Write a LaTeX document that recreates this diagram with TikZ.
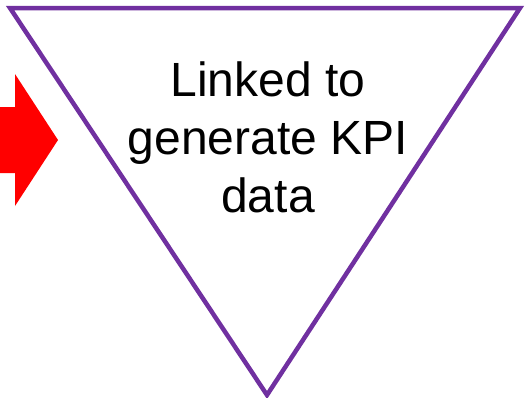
\documentclass[tikz,border=0pt]{standalone}
\usepackage{fontspec}
\setmainfont{Liberation Sans}
\usepackage{tikz}
\usetikzlibrary{positioning}
\definecolor{kpipurple}{RGB}{112,48,160}
\definecolor{kpired}{RGB}{255,0,0}

\begin{document}
\begin{tikzpicture}[x=1pt, y=-1pt,
    funnel/.style={draw=kpipurple, line width=4.5pt, line join=miter},
    pointer/.style={fill=kpired, draw=none},
    label/.style={font=\fontsize{48}{58}\selectfont, align=center, inner sep=0pt}]
  \useasboundingbox (0,0) rectangle (529,397);
  % red arrow coming in from the left
  \fill[pointer] (0,107) -- (15,107) -- (15,74) -- (58,140)
                 -- (15,206) -- (15,173) -- (0,173) -- cycle;
  % inverted triangle
  \draw[funnel] (10,8) -- (520,8) -- (267,395) -- cycle;
  % text inside
  \node[label] (kpi) at (268,137) {Linked to\\generate KPI\\data};
\end{tikzpicture}
\end{document}
